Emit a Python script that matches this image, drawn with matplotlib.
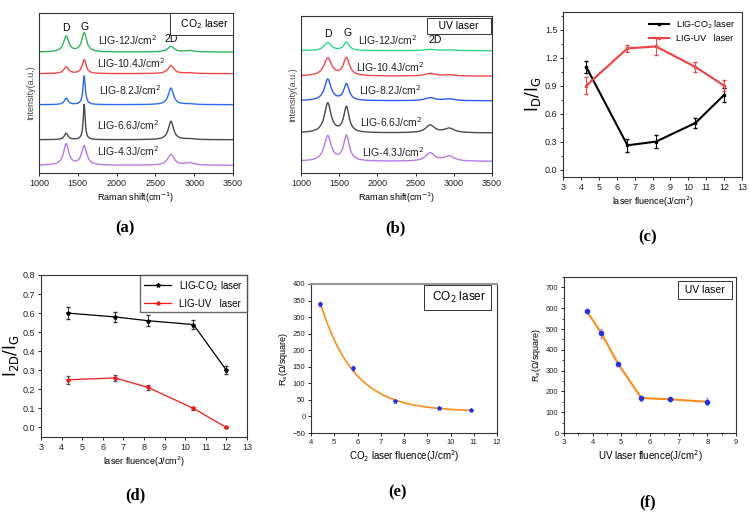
import numpy as np
import matplotlib.pyplot as plt
from matplotlib.ticker import AutoMinorLocator

# ---- data ----
fluence = [4.3, 6.6, 8.2, 10.4, 12.0]
spec_labels = ['LIG-12J/cm$^2$', 'LIG-10.4J/cm$^2$', 'LIG-8.2J/cm$^2$',
               'LIG-6.6J/cm$^2$', 'LIG-4.3J/cm$^2$']
spec_colors_a = ['#2db55d', '#f04848', '#2a6cf0', '#4a4a4a', '#b57be6']
spec_colors_b = ['#2fd68a', '#f04848', '#2a5cf5', '#4a4a4a', '#b57be6']

# Raman peaks: baseline, and heights of D, G, 2D, D+D'
peak_pos_a = [1350, 1582, 2700, 2940]
base_a = [75.6, 62.1, 42.7, 20.8, 4.8]
h_a = [[9.8, 11.9, 3.5, 0.8], [4.2, 8.7, 5.0, 0.5], [4.0, 18.0, 10.4, 0.4],
       [4.0, 22.0, 11.5, 0.5], [13.3, 12.0, 6.7, 1.5]]
w_a = [[40, 38, 50, 70], [36, 30, 45, 70], [28, 18, 40, 70],
       [28, 15, 40, 70], [40, 40, 50, 70]]

peak_pos_b = [1350, 1595, 2690, 2940]
base_b = [77.9, 61.7, 46.0, 25.5, 7.4]
h_b = [[5.1, 5.3, 0.8, 0.5], [11.3, 11.3, 1.7, 0.8], [13.6, 10.4, 1.9, 1.1],
       [18.8, 16.2, 4.9, 2.8], [16.0, 16.0, 5.3, 3.2]]
w_b = [[55, 42, 80, 80], [60, 48, 80, 80], [52, 42, 80, 80],
       [52, 42, 70, 80], [55, 45, 70, 80]]

# (c) ID/IG
idig_co2 = [1.10, 0.26, 0.30, 0.50, 0.80]
idig_co2_err = [0.06, 0.07, 0.07, 0.05, 0.08]
idig_uv = [0.90, 1.30, 1.32, 1.10, 0.90]
idig_uv_err = [0.09, 0.04, 0.09, 0.05, 0.06]

# (d) I2D/IG
i2d_co2 = [0.60, 0.58, 0.56, 0.54, 0.30]
i2d_co2_err = [0.03, 0.025, 0.03, 0.025, 0.02]
i2d_uv = [0.25, 0.26, 0.21, 0.10, 0.00]
i2d_uv_err = [0.02, 0.015, 0.015, 0.01, 0.005]

# (e) sheet resistance, CO2
co2_x = [4.4, 5.8, 7.6, 9.5, 10.9]
co2_rs = [340, 145, 47, 25, 18]
co2_rs_err = [6, 6, 3, 3, 3]

# (f) sheet resistance, UV
uv_x = [3.8, 4.3, 4.9, 5.7, 6.7, 8.0]
uv_rs = [585, 480, 330, 168, 162, 150]
uv_rs_err = [6, 22, 8, 12, 8, 16]

plt.rcParams['font.family'] = ['Liberation Sans', 'DejaVu Sans']
fig = plt.figure(figsize=(7.5, 5.14), dpi=100)
W, H = 750, 514


def add_ax(x0, y0, x1, y1):
    return fig.add_axes([x0 / W, 1 - y1 / H, (x1 - x0) / W, (y1 - y0) / H])


def style(ax, fs=6.5):
    ax.tick_params(direction='out', length=2.5, width=0.7, labelsize=fs,
                   colors='#222222', pad=1.5)
    ax.tick_params(which='minor', direction='out', length=1.5, width=0.5)
    for s in ax.spines.values():
        s.set_linewidth(0.8)
        s.set_color('#333333')


def spectrum(x, pos, h, w):
    y = np.zeros_like(x)
    for p, hh, ww in zip(pos, h, w):
        y += hh / (1 + ((x - p) / ww) ** 2)
    return y


def panel_label(x, y, letter):
    fig.text(x / W, 1 - y / H, '(' + letter + ')', ha='center', va='center',
             fontsize=12, fontweight='bold', family='Liberation Serif')


shift = np.linspace(1000, 3500, 1500)
box = dict(boxstyle='square,pad=0.4', fc='white', ec='#333333', lw=0.7)

# ---- (a) ----
ax = add_ax(39, 13, 233, 173)
for i in range(5):
    y = base_a[i] + spectrum(shift, peak_pos_a, h_a[i], w_a[i])
    ax.plot(shift, y, color=spec_colors_a[i], lw=1.0)
lab_a = [(1763, 83.3), (1742, 68.8), (1776, 52), (1742, 30), (1742, 13.5)]
for (tx, ty), t in zip(lab_a, spec_labels):
    ax.text(tx, ty, t, fontsize=7.5, color='#222222', va='center')
ax.text(1350, 90.5, 'D', fontsize=7.5, ha='center', va='center')
ax.text(1590, 91.5, 'G', fontsize=7.5, ha='center', va='center')
ax.text(2700, 84, '2D', fontsize=7.5, ha='center', va='center')
ax.text(3440, 93, '  CO$_2$ laser ', fontsize=7.5, ha='right',
        va='center', bbox=box)
ax.set_xlim(1000, 3500)
ax.set_ylim(0, 100)
ax.set_yticks([])
ax.set_xticks([1000, 1500, 2000, 2500, 3000, 3500])
ax.set_xlabel('Raman shift(cm$^{-1}$)', fontsize=6.5, labelpad=2)
ax.set_ylabel('Intensity(a.u.)', fontsize=6.5, labelpad=3, color='#444444')
style(ax)
panel_label(125, 228, 'a')

# ---- (b) ----
ax = add_ax(301, 16, 492, 173)
for i in range(5):
    y = base_b[i] + spectrum(shift, peak_pos_b, h_b[i], w_b[i])
    ax.plot(shift, y, color=spec_colors_b[i], lw=1.0)
lab_b = [(1752, 84.7), (1722, 67.7), (1765, 52.8), (1774, 32.6), (1796, 13.4)]
for (tx, ty), t in zip(lab_b, spec_labels):
    ax.text(tx, ty, t, fontsize=7.5, color='#222222', va='center')
ax.text(1348, 88.5, 'D', fontsize=7.5, ha='center', va='center')
ax.text(1613, 89, 'G', fontsize=7.5, ha='center', va='center')
ax.text(2752, 85, '2D', fontsize=7.5, ha='center', va='center')
ax.text(3440, 93.5, '   UV laser   ', fontsize=7.5, ha='right', va='center',
        bbox=dict(boxstyle='square,pad=0.3', fc='white', ec='#333333', lw=0.7))
ax.set_xlim(1000, 3500)
ax.set_ylim(0, 100)
ax.set_yticks([])
ax.set_xticks([1000, 1500, 2000, 2500, 3000, 3500])
ax.set_xlabel('Raman shift(cm$^{-1}$)', fontsize=6.5, labelpad=2)
ax.set_ylabel('Intensity(a.u.)', fontsize=6.5, labelpad=3, color='#444444')
style(ax)
panel_label(395, 228, 'b')

# ---- (c) ----
ax = add_ax(563, 12, 742, 177)
ax.errorbar(fluence, idig_co2, yerr=idig_co2_err, fmt='none', ecolor='black',
            capsize=1.5, elinewidth=0.7)
ax.errorbar(fluence, idig_uv, yerr=idig_uv_err, fmt='none', ecolor='#f04040',
            capsize=1.5, elinewidth=0.7)
ax.plot(fluence, idig_co2, color='black', lw=1.5, marker='s', ms=2,
        label='LIG-CO$_2$ laser')
ax.plot(fluence, idig_uv, color='#f04040', lw=1.5, marker='s', ms=2,
        mfc='white', label='LIG-UV   laser')
ax.set_xlim(3, 13)
ax.set_ylim(-0.08, 1.69)
ax.set_xticks(range(3, 14))
ax.set_yticks([0.0, 0.3, 0.6, 0.9, 1.2, 1.5])
ax.yaxis.set_minor_locator(AutoMinorLocator(2))
ax.set_ylabel(r'$\mathrm{I_D/I_G}$', fontsize=12, labelpad=1)
ax.set_xlabel('laser fluence(J/cm$^2$)', fontsize=6.5, labelpad=2)
ax.legend(loc='upper right', fontsize=6.5, frameon=False, handlelength=2.2,
          borderaxespad=0.3, labelspacing=0.4)
style(ax, 6.5)
panel_label(648, 237, 'c')

# ---- (d) ----
ax = add_ax(41, 275, 247, 437)
ax.errorbar(fluence, i2d_co2, yerr=i2d_co2_err, fmt='none', ecolor='#333333',
            capsize=1.5, elinewidth=0.7)
ax.errorbar(fluence, i2d_uv, yerr=i2d_uv_err, fmt='none', ecolor='#555555',
            capsize=1.5, elinewidth=0.7)
ax.plot(fluence, i2d_co2, color='black', lw=0.9, marker='*', ms=3,
        label='LIG-CO$_2$ laser')
ax.plot(fluence, i2d_uv, color='#f01818', lw=0.9, marker='o', ms=2.2,
        label='LIG-UV   laser')
ax.set_xlim(3, 13)
ax.set_ylim(-0.05, 0.8)
ax.set_xticks(range(3, 14))
ax.set_yticks(np.arange(0, 0.81, 0.1))
ax.set_ylabel(r'$\mathrm{I_{2D}/I_G}$', fontsize=12, labelpad=1)
ax.set_xlabel('laser fluence(J/cm$^2$)', fontsize=6.5, labelpad=2)
ax.legend(loc='upper right', fontsize=7, frameon=True, fancybox=False,
          edgecolor='#444444', handlelength=2.8, borderaxespad=0.0,
          labelspacing=0.6)
style(ax, 6.5)
panel_label(135, 495, 'd')

# ---- (e) ----
ax = add_ax(311, 284, 497, 433)
# exponential decay fit to the measured points
best = None
for y0 in np.arange(0, 17.5, 0.5):
    k, lnA = np.polyfit(co2_x, np.log(np.array(co2_rs) - y0), 1)
    res = np.sum((np.exp(lnA + k * np.array(co2_x)) + y0 - co2_rs) ** 2)
    if best is None or res < best[0]:
        best = (res, y0, k, lnA)
_, y0, k, lnA = best
xf = np.linspace(min(co2_x), max(co2_x), 200)
ax.plot(xf, np.exp(lnA + k * xf) + y0, color='#ff8c1a', lw=1.2)
ax.errorbar(co2_x, co2_rs, yerr=co2_rs_err, fmt='*', color='#2233ee',
            ms=3, capsize=1, elinewidth=0.6)
ax.text(11.55, 359, ' CO$_2$ laser ', fontsize=8.5, ha='right', va='center',
        bbox=box)
ax.set_xlim(4, 12)
ax.set_ylim(-50, 400)
ax.set_yticks(range(-50, 401, 50))
ax.set_xticks(range(4, 13))
ax.set_ylabel('R$_s$(Ω/square)', fontsize=6.5, labelpad=2)
ax.set_xlabel('CO$_2$ laser fluence(J/cm$^2$)', fontsize=7, labelpad=2)
style(ax, 5.5)
ax.spines['top'].set_color('#999999')
ax.spines['top'].set_linewidth(1.5)
panel_label(398, 492, 'e')

# ---- (f) ----
ax = add_ax(564, 277, 736, 433)
ax.errorbar(uv_x, uv_rs, yerr=uv_rs_err, color='#ff8c1a', lw=1.5,
            marker='o', ms=3, mfc='#2233ee', mec='#2233ee', ecolor='#8888ee',
            capsize=1, elinewidth=0.6)
ax.text(8.7, 687, ' UV laser ', fontsize=7.5, ha='right', va='center',
        bbox=box)
ax.set_xlim(3, 9)
ax.set_ylim(0, 750)
ax.set_yticks(range(0, 701, 100))
ax.set_xticks(range(3, 10))
ax.xaxis.set_minor_locator(AutoMinorLocator(2))
ax.yaxis.set_minor_locator(AutoMinorLocator(2))
ax.set_ylabel('R$_s$(Ω/square)', fontsize=6.5, labelpad=2)
ax.set_xlabel('UV laser fluence(J/cm$^2$)', fontsize=7, labelpad=2)
style(ax, 5.5)
panel_label(648, 502, 'f')

fig.savefig('out.png', dpi=100)
